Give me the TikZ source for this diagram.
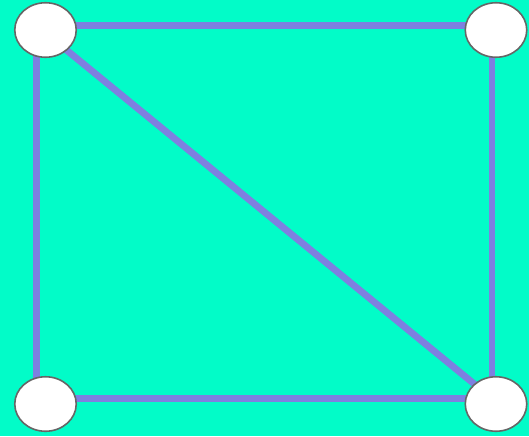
\documentclass[tikz,border=0pt]{standalone}
\usetikzlibrary{shapes.geometric,backgrounds}
\definecolor{bgaqua}{HTML}{02FCC8}
\definecolor{edgeblue}{HTML}{7E80E0}
\definecolor{rimgray}{HTML}{666666}
\tikzset{
  vert/.style={ellipse, draw=rimgray, fill=white, line width=1.6pt,
    minimum width=61.5pt, minimum height=54.5pt, inner sep=0pt},
  link/.style={draw=edgeblue, line width=6.8pt}
}
\begin{document}
\begin{tikzpicture}[x=1pt,y=-1pt]
	\useasboundingbox (0,0) rectangle (529,436);
	\node[vert] (tl) at (45.5,30) {};
	\node[vert] (tr) at (496,30) {};
	\node[vert] (bl) at (45.5,404) {};
	\node[vert] (br) at (496,404) {};
	% edges meet a little up and left of the node centres
	\coordinate (ctl) at ([xshift=-9pt,yshift=4.5pt]tl.center);
	\coordinate (ctr) at ([xshift=-4pt,yshift=4.5pt]tr.center);
	\coordinate (cbl) at ([xshift=-9pt,yshift=5.5pt]bl.center);
	\coordinate (cbr) at ([xshift=-4pt,yshift=5.5pt]br.center);
	\begin{pgfonlayer}{background}
		\fill[bgaqua] (0,0) rectangle (529,436);
		\draw[link] (ctl) -- (ctr) -- (cbr) -- (cbl) -- cycle;
		\draw[link] (ctl) -- (cbr);
	\end{pgfonlayer}
\end{tikzpicture}
\end{document}
